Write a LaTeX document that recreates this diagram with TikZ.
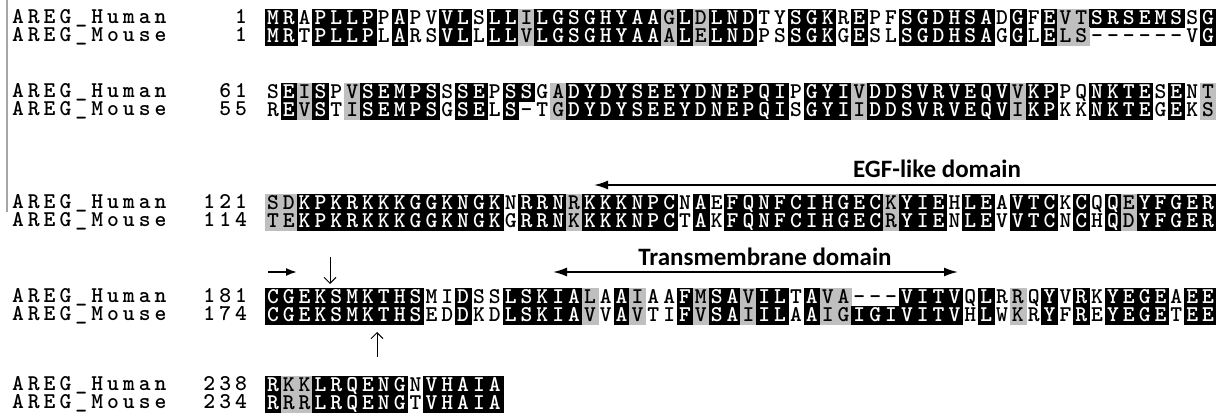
\documentclass[tikz,border=0pt]{standalone}
\usepackage{fontspec}
\newfontfamily\lblfont{Carlito}
\usetikzlibrary{arrows.meta}

\newcounter{alncol}
% one alignment row: node prefix, left x, y, letters, shading (b/g/w/n)
\newcommand{\alnrow}[5]{%
  \def\alnname{#1}\def\alnx{#2}\def\alny{#3}%
  \setcounter{alncol}{0}%
  \alnstep#4\relax#5\relax}
\def\alnstep#1#2\relax#3#4\relax{%
  \stepcounter{alncol}%
  \node[res#3] (\alnname-\thealncol) at ({\alnx+15.85*(\thealncol-0.5)},\alny) {#1};%
  \ifx\relax#2\relax\let\alnnext\relax\else\def\alnnext{\alnstep#2\relax#4\relax}\fi
  \alnnext}

\begin{document}
\begin{tikzpicture}[x=1pt, y=-1pt,
  res/.style={minimum width=15.85pt, minimum height=18pt, inner sep=0pt, outer sep=0pt,
    text height=13.6pt, text depth=0pt, font=\fontsize{22.5}{22.5}\selectfont\ttfamily\bfseries},
  resb/.style={res, fill=black, draw=black, line width=0.4pt, text=white},
  resg/.style={res, fill=gray!50, draw=gray!50, line width=0.4pt},
  resw/.style={res},
  resn/.style={res, minimum height=0pt, minimum width=0pt, text height=12pt},
  domlabel/.style={font=\fontsize{25}{27}\lblfont\bfseries, inner sep=0pt},
  domarrow/.style={line width=1.8pt},
  sitearrow/.style={line width=1pt, -{Straight Barb[length=6pt,width=12pt]}}]

\path[use as bounding box] (0,0) rectangle (1216,419);

\draw[gray!70, line width=1.2pt] (7,0) -- (7,212);

% names
\foreach \b/\y in {1/18,2/92,3/203,4/297,5/385} {
  \pgfmathsetmacro\ym{\y+18}
  \alnrow{namh\b}{10}{\y}{AREG\_Human}{nnnnnnnnnn}
  \alnrow{namm\b}{10}{\ym}{AREG\_Mouse}{nnnnnnnnnn}
}

% Block 1
\alnrow{numh1}{233.15}{18}{1}{n}
\alnrow{numm1}{233.15}{36}{1}{n}
\alnrow{h1}{265}{18}{MRAPLLPPAP VVLSLLILGS GHYAAGLDLN DTYSGKREPF SGDHSADGFE VTSRSEMSSG}
                    {bbwbbbbwbw wbbwbbgbbb bbbbbgbgbb bwwbbbwbww bbbbbbwbwb ggbbbbbbwb}
\alnrow{m1}{265}{36}{MRTPLLPLAR SVLLLLVLGS GHYAAALELN DPSSGKGESL SGDHSAGGLE LS------VG}
                    {bbwbbbbwbw wbbwbbgbbb bbbbbgbgbb bwwbbbwbww bbbbbbwbwb ggwwwwwwwb}

% Block 2
\alnrow{numh2}{217.3}{92}{61}{nn}
\alnrow{numm2}{217.3}{110}{55}{nn}
\alnrow{h2}{265}{92}{SEISPVSEMP SSSEPSSGAD YDYSEEYDNE PQIPGYIVDD SVRVEQVVKP PQNKTESENT}
                    {wbgbwgbbbb bwbbwbbwgb bbbbbbbbbb bbbwbbbgbb bbbbbbbgbb wwbbbbwbwg}
\alnrow{m2}{265}{110}{REVSTISEMP SGSELS-TGD YDYSEEYDNE PQISGYIIDD SVRVEQVIKP KKNKTEGEKS}
                     {wbgbwgbbbb bwbbwbwwgb bbbbbbbbbb bbbwbbbgbb bbbbbbbgbb wwbbbbwbwg}

% Block 3
\alnrow{numh3}{201.45}{203}{121}{nnn}
\alnrow{numm3}{201.45}{221}{114}{nnn}
\alnrow{h3}{265}{203}{SDKPKRKKKG GKNGKNRRNR KKKNPCNAEF QNFCIHGECK YIEHLEAVTC KCQQEYFGER}
                     {ggbbbbbbbb bbbbbwbbbg bbbbbbwbwb bbbbbbbbbg bbbwbbwbbb wbwbgbbbbb}
\alnrow{m3}{265}{221}{TEKPKRKKKG GKNGKGRRNK KKKNPCTAKF QNFCIHGECR YIENLEVVTC NCHQDYFGER}
                     {ggbbbbbbbb bbbbbwbbbg bbbbbbwbwb bbbbbbbbbg bbbwbbwbbb wbwbgbbbbb}

% EGF-like domain
\coordinate (egfr) at (1216,185);
\coordinate (egfl) at (594,185);
\node[domlabel] (egf) at (937,169) {EGF-like domain};
\draw[domarrow, -{Latex[length=14pt,width=9pt]}] (egfr) -- (egfl);

% Block 4
\alnrow{numh4}{201.45}{297}{181}{nnn}
\alnrow{numm4}{201.45}{315}{174}{nnn}
\alnrow{h4}{265}{297}{CGEKSMKTHS MIDSSLSKIA LAAIAAFMSA VILTAVA--- VITVQLRRQY VRKYEGEAEE}
                     {bbbbbbbbbb wwbwwbbbbb gwbgwwbgbb gbbwbggwww bbbbwbwgwb wbwbbbbwbb}
\alnrow{m4}{265}{315}{CGEKSMKTHS EDDKDLSKIA VVAVTIFVSA IILAAIGIGI VITVHLWKRY FREYEGETEE}
                     {bbbbbbbbbb wwbwwbbbbb gwbgwwbgbb gbbwbggbbb bbbbwbwgwb wbwbbbbwbb}

% Transmembrane domain
\coordinate (tml) at (553,272);
\coordinate (tmr) at (958,272);
\node[domlabel] (tm) at (765,257) {Transmembrane domain};
\draw[domarrow, {Latex[length=14pt,width=9pt]}-{Latex[length=14pt,width=9pt]}] (tml) -- (tmr);

% sites
\coordinate (sigl) at (268,272);
\coordinate (sigr) at (297,272);
\draw[domarrow, -{Latex[length=11pt,width=8pt]}] (sigl) -- (sigr);
\coordinate (cuttop) at (330,257);
\coordinate (cutbot) at (330,284);
\draw[sitearrow] (cuttop) -- (cutbot);
\coordinate (mcutbot) at (377,357);
\coordinate (mcuttop) at (377,332);
\draw[sitearrow] (mcutbot) -- (mcuttop);

% Block 5
\alnrow{numh5}{201.45}{385}{238}{nnn}
\alnrow{numm5}{201.45}{403}{234}{nnn}
\alnrow{h5}{265}{385}{RKKLRQENGN VHAIA}{bggbbbbbbw bbbbb}
\alnrow{m5}{265}{403}{RRRLRQENGT VHAIA}{bggbbbbbbw bbbbb}
\end{tikzpicture}
\end{document}
